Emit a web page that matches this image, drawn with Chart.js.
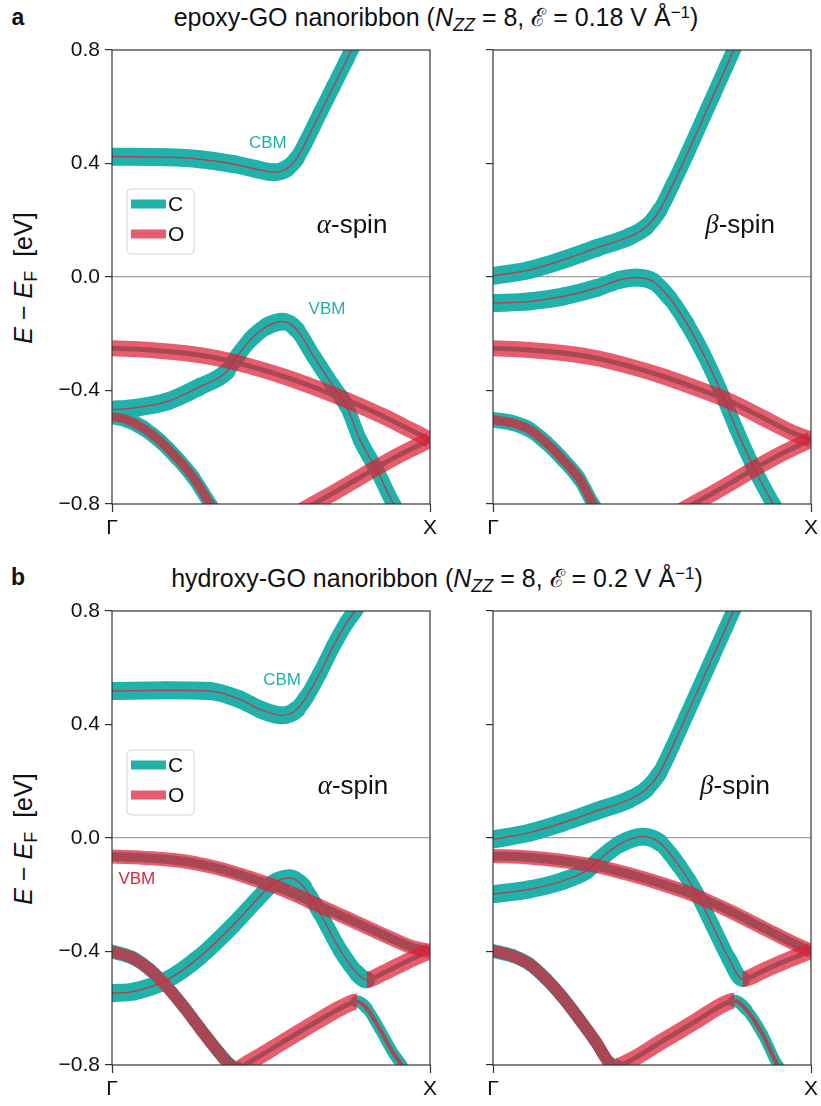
<!DOCTYPE html>
<html>
<head>
<meta charset="utf-8">
<script src="https://cdn.jsdelivr.net/npm/chart.js@4.4.1/dist/chart.umd.min.js"></script>
<style>
  body { margin: 0; background: #fff; width: 821px; height: 1106px; position: relative; overflow: hidden;
         font-family: "Liberation Sans", Arial, Helvetica, sans-serif; color: #111; }
  canvas { position: absolute; }
  .tag { position: absolute; font-weight: bold; font-size: 23px; transform: translate(-50%, -50%); }
  .title { position: absolute; font-size: 25px; white-space: nowrap; transform: translate(-50%, -50%); }
  .ylab { position: absolute; font-size: 25px; white-space: nowrap; transform: translate(-50%, -50%) rotate(-90deg); }
  .sub { font-size: 0.72em; position: relative; top: 0.28em; }
  .sup { font-size: 0.68em; position: relative; top: -0.5em; }
</style>
</head>
<body>
<div class="tag" style="left:18px;top:17px">a</div>
<div class="title" style="left:436px;top:16px">epoxy-GO nanoribbon (<i>N</i><span class="sub"><i>ZZ</i></span> = 8, ℰ = 0.18 V Å<span class="sup">−1</span>)</div>
<div class="ylab" style="left:23px;top:278px"><i>E</i> − <i>E</i><span class="sub">F</span>&nbsp; [eV]</div>
<canvas id="aAlpha" width="400" height="500" style="left:40px;top:40px"></canvas>
<canvas id="aBeta" width="381" height="500" style="left:440px;top:40px"></canvas>

<div class="tag" style="left:18px;top:577px">b</div>
<div class="title" style="left:437px;top:577px">hydroxy-GO nanoribbon (<i>N</i><span class="sub"><i>ZZ</i></span> = 8, ℰ = 0.2 V Å<span class="sup">−1</span>)</div>
<div class="ylab" style="left:23px;top:839px"><i>E</i> − <i>E</i><span class="sub">F</span>&nbsp; [eV]</div>
<canvas id="bAlpha" width="400" height="500" style="left:40px;top:601px"></canvas>
<canvas id="bBeta" width="381" height="500" style="left:440px;top:601px"></canvas>

<script>
// ---- Band structures along Γ → X (k in units of the Γ–X distance, E − E_F in eV) ----
// Character codes per point: C = carbon, O = oxygen, M/K = mixed C+O,
// D = oxygen with strong carbon admixture, T = carbon with some oxygen.

// (a) epoxy-GO, α-spin
const aAlphaCbmK = [0, 0.173, 0.277, 0.382, 0.455, 0.508, 0.550, 0.581, 0.613, 0.654, 0.696, 0.738, 0.764, 0.79];
const aAlphaCbmE = [0.424, 0.422, 0.415, 0.398, 0.380, 0.369, 0.383, 0.418, 0.483, 0.577, 0.671, 0.765, 0.825, 0.885];
const aAlphaCbmChar = 'CCCCCCCCCCCCCC';
const aAlphaVbmK = [0, 0.068, 0.173, 0.277, 0.361, 0.393, 0.435, 0.487, 0.539, 0.581, 0.634, 0.696, 0.738, 0.780, 0.832, 0.885, 0.916];
const aAlphaVbmE = [-0.468, -0.462, -0.439, -0.386, -0.333, -0.28, -0.221, -0.174, -0.157, -0.186, -0.280, -0.386, -0.456, -0.574, -0.679, -0.80, -0.86];
const aAlphaVbmChar = 'CCCCCCCCCCCCCCCCC';
const aAlphaO1K = [0, 0.120, 0.225, 0.330, 0.435, 0.539, 0.644, 0.749, 0.853, 0.937, 1];
const aAlphaO1E = [-0.251, -0.257, -0.268, -0.286, -0.315, -0.350, -0.392, -0.439, -0.491, -0.538, -0.574];
const aAlphaO1Char = 'OOOOOOOOOOO';
const aAlphaO2K = [0.571, 0.634, 0.696, 0.759, 0.838, 0.906, 1];
const aAlphaO2E = [-0.84, -0.80, -0.761, -0.720, -0.668, -0.626, -0.574];
const aAlphaO2Char = 'OOOOOOO';
const aAlphaMixK = [0, 0.047, 0.099, 0.152, 0.204, 0.257, 0.309, 0.340];
const aAlphaMixE = [-0.491, -0.503, -0.533, -0.579, -0.638, -0.709, -0.80, -0.85];
const aAlphaMixChar = 'MMMMMMMM';

// (a) epoxy-GO, β-spin
const aBetaCbmK = [0, 0.115, 0.220, 0.325, 0.430, 0.483, 0.525, 0.567, 0.609, 0.651, 0.693, 0.735, 0.761, 0.787];
const aBetaCbmE = [0.004, 0.025, 0.060, 0.102, 0.143, 0.178, 0.237, 0.330, 0.430, 0.535, 0.640, 0.745, 0.810, 0.875];
const aBetaCbmChar = 'CCCCCCCCCCCCCC';
const aBetaVbmK = [0, 0.115, 0.220, 0.325, 0.399, 0.451, 0.504, 0.556, 0.609, 0.661, 0.714, 0.766, 0.818, 0.881, 0.913];
const aBetaVbmE = [-0.092, -0.086, -0.069, -0.039, -0.010, -0.002, -0.016, -0.075, -0.163, -0.269, -0.397, -0.538, -0.667, -0.80, -0.86];
const aBetaVbmChar = 'CCCCCCCCCCCCCCC';
const aBetaO1K = [0, 0.115, 0.220, 0.325, 0.430, 0.535, 0.640, 0.745, 0.850, 0.944, 1];
const aBetaO1E = [-0.251, -0.257, -0.268, -0.286, -0.315, -0.350, -0.392, -0.438, -0.497, -0.550, -0.573];
const aBetaO1Char = 'OOOOOOOOOOO';
const aBetaO2K = [0.567, 0.630, 0.693, 0.756, 0.834, 0.902, 1];
const aBetaO2E = [-0.84, -0.80, -0.761, -0.720, -0.668, -0.626, -0.573];
const aBetaO2Char = 'OOOOOOO';
const aBetaMixK = [0, 0.063, 0.115, 0.168, 0.220, 0.273, 0.315, 0.346];
const aBetaMixE = [-0.503, -0.515, -0.538, -0.585, -0.644, -0.714, -0.80, -0.85];
const aBetaMixChar = 'MMMMMMMM';

// (b) hydroxy-GO, α-spin
const bAlphaCbmK = [0, 0.173, 0.309, 0.403, 0.466, 0.534, 0.581, 0.613, 0.654, 0.696, 0.738, 0.764, 0.791];
const bAlphaCbmE = [0.518, 0.521, 0.518, 0.488, 0.453, 0.432, 0.453, 0.500, 0.582, 0.676, 0.759, 0.80, 0.845];
const bAlphaCbmChar = 'CCCCCCCCCCCCC';
const bAlphaVbmK = [0, 0.120, 0.225, 0.330, 0.435, 0.539, 0.644, 0.749, 0.853, 0.937, 1];
const bAlphaVbmE = [-0.065, -0.071, -0.082, -0.106, -0.141, -0.182, -0.235, -0.288, -0.341, -0.382, -0.398];
const bAlphaVbmChar = 'DDDDDDDDDDD';
const bAlphaC2K = [0, 0.068, 0.173, 0.277, 0.382, 0.455, 0.508, 0.560, 0.602, 0.654, 0.717, 0.770, 0.801, 0.853, 0.927, 1];
const bAlphaC2E = [-0.547, -0.541, -0.500, -0.418, -0.306, -0.218, -0.159, -0.141, -0.171, -0.265, -0.394, -0.476, -0.500, -0.476, -0.435, -0.398];
const bAlphaC2Char = 'CCCCCCCCCCCCOOOO';
const bAlphaMixK = [0, 0.068, 0.120, 0.173, 0.225, 0.277, 0.330, 0.372, 0.393, 0.435, 0.539, 0.644, 0.728, 0.770, 0.801, 0.843, 0.885, 0.911, 0.927];
const bAlphaMixE = [-0.400, -0.424, -0.465, -0.524, -0.594, -0.671, -0.747, -0.80, -0.811, -0.788, -0.718, -0.647, -0.594, -0.576, -0.600, -0.676, -0.759, -0.80, -0.83];
const bAlphaMixChar = 'KKKKKKKKOOOOOTTTTTT';

// (b) hydroxy-GO, β-spin
const bBetaCbmK = [0, 0.115, 0.220, 0.325, 0.429, 0.482, 0.524, 0.565, 0.607, 0.649, 0.691, 0.733, 0.759, 0.785];
const bBetaCbmE = [-0.005, 0.019, 0.054, 0.095, 0.136, 0.172, 0.230, 0.324, 0.428, 0.533, 0.638, 0.743, 0.808, 0.873];
const bBetaCbmChar = 'CCCCCCCCCCCCCC';
const bBetaC2K = [0, 0.115, 0.220, 0.293, 0.335, 0.398, 0.471, 0.524, 0.586, 0.639, 0.691, 0.743, 0.785, 0.848, 0.921, 1];
const bBetaC2E = [-0.198, -0.181, -0.151, -0.116, -0.075, -0.022, 0.005, -0.016, -0.099, -0.193, -0.310, -0.428, -0.498, -0.469, -0.433, -0.398];
const bBetaC2Char = 'CCCCCCCCCCCCOOOO';
const bBetaVbmK = [0, 0.115, 0.220, 0.325, 0.429, 0.534, 0.639, 0.743, 0.848, 0.953, 1];
const bBetaVbmE = [-0.063, -0.069, -0.081, -0.099, -0.128, -0.163, -0.204, -0.257, -0.316, -0.375, -0.398];
const bBetaVbmChar = 'DDDDDDDDDDD';
const bBetaMixK = [0, 0.063, 0.115, 0.168, 0.220, 0.272, 0.325, 0.366, 0.387, 0.429, 0.534, 0.639, 0.712, 0.759, 0.796, 0.848, 0.895, 0.916];
const bBetaMixE = [-0.398, -0.416, -0.445, -0.498, -0.563, -0.639, -0.721, -0.792, -0.803, -0.786, -0.715, -0.645, -0.594, -0.574, -0.604, -0.692, -0.80, -0.83];
const bBetaMixChar = 'KKKKKKKKOOOOOTTTTT';

// Axis ticks
const energyTicks = [0.8, 0.4, 0.0, -0.4, -0.8];
const kTicks = [0, 1];
const kTickLabels = ['Γ', 'X'];

// ---- Styling ----
const TEAL = '#20b2aa';
const RED = 'rgba(222, 30, 52, 0.72)';
const FONT = '"Liberation Sans", Arial, Helvetica, sans-serif';
// stroke widths (px) of the carbon and oxygen projections for each character code
const projWidth = {
  C: [18, 1.5], O: [5, 16], M: [16, 9], D: [9, 14], K: [14, 12], T: [13, 4]
};

function bandDatasets(k, e, chars) {
  const codes = chars.split('');
  const pts = () => k.map((kv, i) => ({ x: kv, y: e[i] }));
  // carbon projection: opaque, slightly slimmer on steep stretches
  const carbon = {
    data: pts(), pointRadius: 0, order: 2, fill: false, cubicInterpolationMode: 'monotone',
    borderColor: TEAL, borderCapStyle: 'round', borderJoinStyle: 'round',
    borderWidth: projWidth[codes[0]][0],
    segment: {
      borderWidth: c => {
        const dx = c.p1.x - c.p0.x, dy = c.p1.y - c.p0.y;
        const cos = Math.abs(dx) / (Math.hypot(dx, dy) || 1);
        return projWidth[codes[c.p0DataIndex]][0] * (0.68 + 0.32 * cos);
      }
    }
  };
  // oxygen projection: translucent, drawn over the carbon layer
  const oxygen = {
    data: pts(), pointRadius: 0, order: 1, fill: false, cubicInterpolationMode: 'monotone',
    borderColor: RED, borderCapStyle: 'butt', borderJoinStyle: 'round',
    borderWidth: projWidth[codes[0]][1],
    segment: { borderWidth: c => projWidth[codes[c.p0DataIndex]][1] }
  };
  return [carbon, oxygen];
}

function drawMixed(ctx, x, y, parts) {
  let total = 0;
  parts.forEach(p => { ctx.font = p[1]; total += ctx.measureText(p[0]).width; });
  let cx = x - total / 2;
  parts.forEach(p => {
    ctx.font = p[1];
    ctx.fillText(p[0], cx, y);
    cx += ctx.measureText(p[0]).width;
  });
}

const decorPlugin = {
  id: 'panelDecor',
  afterDatasetsDraw(chart, args, opts) {
    const { ctx, chartArea: a, scales } = chart;
    ctx.save();
    ctx.strokeStyle = '#333';
    ctx.lineWidth = 1.2;
    ctx.strokeRect(a.left, a.top, a.right - a.left, a.bottom - a.top);

    ctx.textBaseline = 'middle';
    ctx.textAlign = 'left';
    const sx = scales.x.getPixelForValue(opts.spin.k);
    const sy = scales.y.getPixelForValue(opts.spin.e);
    ctx.fillStyle = '#111';
    drawMixed(ctx, sx, sy, [[opts.spin.greek, 'italic 27px "Liberation Serif", "DejaVu Serif", serif'],
                            ['-spin', '26px ' + FONT]]);
    (opts.notes || []).forEach(n => {
      ctx.fillStyle = n.color;
      ctx.font = '17px ' + FONT;
      ctx.textAlign = 'center';
      ctx.fillText(n.text, scales.x.getPixelForValue(n.k), scales.y.getPixelForValue(n.e));
    });
    if (opts.legend) {
      const lx = a.left + 15, ly = a.top + 139, lw = 67, lh = 65;
      ctx.beginPath();
      ctx.roundRect(lx, ly, lw, lh, 4);
      ctx.fillStyle = 'rgba(255,255,255,0.85)';
      ctx.fill();
      ctx.strokeStyle = '#d4d4d4';
      ctx.lineWidth = 1;
      ctx.stroke();
      [['C', TEAL, 15], ['O', RED, 45]].forEach(([lab, col, dy]) => {
        ctx.fillStyle = col;
        ctx.fillRect(lx + 4, ly + dy - 4.5, 35, 9);
        ctx.fillStyle = '#111';
        ctx.font = '21px ' + FONT;
        ctx.textAlign = 'left';
        ctx.fillText(lab, lx + 41, ly + dy + 1);
      });
    }
    ctx.restore();
  }
};

function makePanel(id, bands, axisWidth, showLabels, decor) {
  const datasets = [];
  bands.forEach(b => datasets.push(...bandDatasets(b[0], b[1], b[2])));
  return new Chart(document.getElementById(id), {
    type: 'line',
    data: { datasets },
    options: {
      responsive: false, animation: false, devicePixelRatio: 1,
      layout: { padding: { top: 10, right: 10, left: 0, bottom: 0 } },
      plugins: { legend: { display: false }, tooltip: { enabled: false }, panelDecor: decor },
      scales: {
        x: {
          type: 'linear', min: 0, max: 1,
          afterBuildTicks: s => { s.ticks = kTicks.map(v => ({ value: v })); },
          afterFit: s => { s.height = 36; s.paddingLeft = 0; s.paddingRight = 0; },
          ticks: { callback: v => kTickLabels[kTicks.indexOf(v)], font: { family: FONT, size: 21 }, color: '#111', padding: 4, maxRotation: 0 },
          grid: { drawOnChartArea: false, tickLength: 8, tickColor: '#333', tickWidth: 1.2 },
          border: { display: false }
        },
        y: {
          type: 'linear', min: -0.8, max: 0.8,
          afterBuildTicks: s => { s.ticks = energyTicks.map(v => ({ value: v })); },
          afterFit: s => { s.width = axisWidth; s.paddingTop = 0; s.paddingBottom = 0; },
          ticks: {
            display: showLabels,
            callback: v => (v < 0 ? '−' : '') + Math.abs(v).toFixed(1),
            font: { family: FONT, size: 21 }, color: '#111', padding: 5
          },
          grid: {
            color: c => (c.tick && Math.abs(c.tick.value) < 1e-9) ? '#a0a0a0' : 'rgba(0,0,0,0)',
            lineWidth: 1.2, tickLength: 7, tickColor: '#333', tickWidth: 1.2
          },
          border: { display: false }
        }
      }
    },
    plugins: [decorPlugin]
  });
}

makePanel('aAlpha', [
  [aAlphaCbmK, aAlphaCbmE, aAlphaCbmChar], [aAlphaVbmK, aAlphaVbmE, aAlphaVbmChar],
  [aAlphaO1K, aAlphaO1E, aAlphaO1Char], [aAlphaO2K, aAlphaO2E, aAlphaO2Char],
  [aAlphaMixK, aAlphaMixE, aAlphaMixChar]
], 72, true, {
  spin: { greek: 'α', k: 0.755, e: 0.18 },
  notes: [{ text: 'CBM', k: 0.49, e: 0.47, color: TEAL }, { text: 'VBM', k: 0.676, e: -0.115, color: TEAL }],
  legend: true
});
makePanel('aBeta', [
  [aBetaCbmK, aBetaCbmE, aBetaCbmChar], [aBetaVbmK, aBetaVbmE, aBetaVbmChar],
  [aBetaO1K, aBetaO1E, aBetaO1Char], [aBetaO2K, aBetaO2E, aBetaO2Char],
  [aBetaMixK, aBetaMixE, aBetaMixChar]
], 53, false, { spin: { greek: 'β', k: 0.777, e: 0.18 } });
makePanel('bAlpha', [
  [bAlphaCbmK, bAlphaCbmE, bAlphaCbmChar], [bAlphaC2K, bAlphaC2E, bAlphaC2Char],
  [bAlphaMixK, bAlphaMixE, bAlphaMixChar], [bAlphaVbmK, bAlphaVbmE, bAlphaVbmChar]
], 72, true, {
  spin: { greek: 'α', k: 0.758, e: 0.18 },
  notes: [{ text: 'CBM', k: 0.535, e: 0.554, color: TEAL }, { text: 'VBM', k: 0.078, e: -0.147, color: '#d8283c' }],
  legend: true
});
makePanel('bBeta', [
  [bBetaCbmK, bBetaCbmE, bBetaCbmChar], [bBetaC2K, bBetaC2E, bBetaC2Char],
  [bBetaMixK, bBetaMixE, bBetaMixChar], [bBetaVbmK, bBetaVbmE, bBetaVbmChar]
], 53, false, { spin: { greek: 'β', k: 0.761, e: 0.18 } });
</script>
</body>
</html>
